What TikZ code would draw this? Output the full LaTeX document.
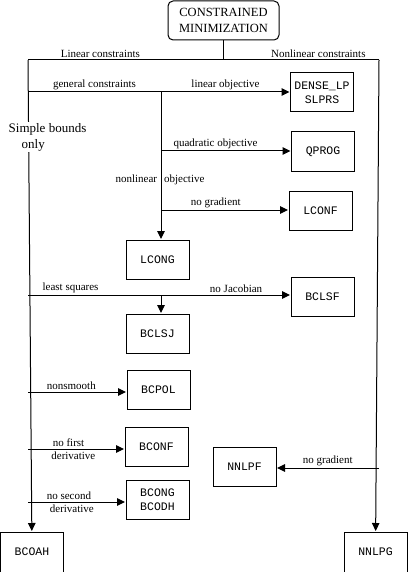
\documentclass[tikz,border=0pt]{standalone}
\usepackage{fontspec}
\setmainfont{Liberation Serif}
\setmonofont{Liberation Mono}
\usetikzlibrary{arrows.meta, positioning}

\begin{document}
\begin{tikzpicture}[
    x=1pt, y=-1pt,
    box/.style={rectangle, draw=black, line width=1pt, minimum width=63pt, minimum height=39pt, align=center, inner sep=1pt, font=\fontsize{11.5}{14}\ttfamily},
    topbox/.style={rectangle, draw=black, line width=1pt, rounded corners=5pt, minimum width=111pt, minimum height=39pt, align=center, inner sep=1pt, font=\fontsize{12.5}{16}\selectfont},
    lbl/.style={font=\fontsize{11}{13}\selectfont, inner sep=1.5pt},
    line/.style={line width=1pt},
    arrow/.style={-{Triangle[length=8pt, width=7.5pt]}, line width=1pt, shorten >=0.5pt},
  ]
  \useasboundingbox (0,0) rectangle (408,572);

  % Root
  \node[topbox] (root) at (223.5,20.5) {CONSTRAINED\\MINIMIZATION};

  % Linear constraints, general
  \node[box] (dense) at (322,92.5) {DENSE\_LP\\SLPRS};
  \node[box] (qprog) at (323,151.5) {QPROG};
  \node[box] (lconf) at (320.5,210.5) {LCONF};
  \node[box] (lcong) at (157.5,259.5) {LCONG};

  % Simple bounds
  \node[box] (bclsf) at (322.5,296.5) {BCLSF};
  \node[box] (bclsj) at (157.5,333.5) {BCLSJ};
  \node[box] (bcpol) at (158.5,389.5) {BCPOL};
  \node[box] (bconf) at (156.5,446.5) {BCONF};
  \node[box] (bcong) at (157.5,499.5) {BCONG\\BCODH};
  \node[box, minimum height=40pt] (bcoah) at (32,552) {BCOAH};

  % Nonlinear constraints
  \node[box] (nnlpf) at (244.5,466.5) {NNLPF};
  \node[box, minimum height=40pt] (nnlpg) at (375.5,552) {NNLPG};

  % Junctions
  \coordinate (split) at (root.south |- 0,60);
  \coordinate (lin) at (28,60);
  \coordinate (nonlin) at (379,60);
  \coordinate (gen) at (28,92);
  \coordinate (obj) at (161,92);
  \coordinate (quad) at (161,151);
  \coordinate (nograd) at (161,210);
  \coordinate (lsq) at (28,295);
  \coordinate (jac) at (161,295);
  \coordinate (nsm) at (28,392);
  \coordinate (nfd) at (28,449);
  \coordinate (nsd) at (28,502);
  \coordinate (nnl) at (379,468);

  % Arrows
  \draw[line] (root) -- (split);
  \draw[line] (split) -- node[lbl, above, pos=0.63] {Linear constraints} (lin);
  \draw[line] (split) -- node[lbl, above, pos=0.61] {Nonlinear constraints} (nonlin);
  \draw[arrow] (lin) -- (bcoah);
  \draw[arrow] (nonlin) -- (nnlpg);
  \draw[line] (gen) -- node[lbl, above] {general constraints} (obj);
  \draw[arrow] (obj) -- node[lbl, above] {linear objective} (obj -| dense.west);
  \draw[arrow] (quad) -- node[lbl, above, pos=0.42] {quadratic objective} (quad -| qprog.west);
  \draw[arrow] (nograd) -- node[lbl, above, pos=0.43] {no gradient} (nograd -| lconf.west);
  \draw[arrow] (obj) -- (obj |- lcong.north);
  \node[lbl] at (160,180) {nonlinear\hspace{7pt}objective};
  \draw[line] (lsq) -- node[lbl, above, pos=0.32] {least squares} (jac);
  \draw[arrow] (jac) -- node[lbl, above, pos=0.58] {no Jacobian} (jac -| bclsf.west);
  \draw[arrow] (jac) -- (jac |- bclsj.north);
  \draw[arrow] (nsm) -- node[lbl, above, pos=0.44] {nonsmooth} (nsm -| bcpol.west);
  \draw[arrow] (nfd) -- node[lbl, above, pos=0.42] {no first}
    node[lbl, below, pos=0.47, yshift=-1pt] {derivative} (nfd -| bconf.west);
  \draw[arrow] (nsd) -- node[lbl, above, pos=0.42] {no second}
    node[lbl, below, pos=0.45, yshift=-1pt] {derivative} (nsd -| bcong.west);
  \draw[arrow] (nnl) -- node[lbl, above] {no gradient} (nnl -| nnlpf.east);

  % Simple bounds label over the left line
  \node[fill=white, align=left, inner sep=1pt, font=\fontsize{13}{16}\selectfont] (simple) at (47.5,137) {Simple bounds\\\hspace*{13pt}only};

\end{tikzpicture}
\end{document}
